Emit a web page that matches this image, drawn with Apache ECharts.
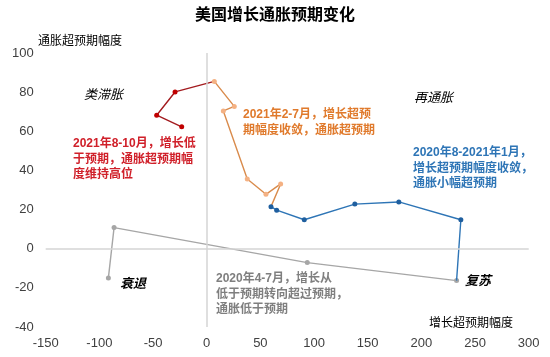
<!DOCTYPE html>
<html><head><meta charset="utf-8">
<script src="https://cdn.jsdelivr.net/npm/echarts@6/dist/echarts.min.js"></script>
<style>html,body{margin:0;padding:0;background:#fff}#c{width:550px;height:357px}</style>
</head><body><div id="c"></div>
<script>
// 2020年4-7月
const growthGray = [-91.6, -86.3, 93.7, 232.8];
const inflGray = [-14.9, 10.8, -7.1, -16.3];
// 2020年8月-2021年1月
const growthBlue = [236.8, 179, 138, 90.9, 65.2, 59.9];
const inflBlue = [14.8, 23.9, 22.8, 14.8, 19.7, 21.5];
// 2021年2-7月
const growthOrange = [68.9, 55.2, 37.8, 15.5, 25.7, 7.1];
const inflOrange = [33.1, 27.8, 35.6, 70.4, 72.7, 85.5];
// 2021年8-10月
const growthRed = [-29.5, -46.6, -23.3];
const inflRed = [80.1, 68.2, 62.3];

const xTicks = [-150, -100, -50, 0, 50, 100, 150, 200, 250, 300];
const yTicks = [-40, -20, 0, 20, 40, 60, 80, 100];

function pts(xs, ys, prevX, prevY) {
  const d = [];
  if (prevX !== undefined) d.push({value: [prevX, prevY], symbol: 'none'});
  xs.forEach((x, i) => d.push([x, ys[i]]));
  return d;
}
const lastG = growthGray.length - 1, lastB = growthBlue.length - 1, lastO = growthOrange.length - 1;

const CJK = '"Liberation Sans","Noto Sans CJK SC",sans-serif';
const chart = echarts.init(document.getElementById('c'));
function lineSeries(data, lineColor, markColor, extra) {
  return Object.assign({
    type: 'line', data: data, symbol: 'circle', symbolSize: 5,
    lineStyle: {color: lineColor, width: 1.4},
    itemStyle: {color: markColor},
    z: 3, animation: false
  }, extra || {});
}
function txt(left, top, lines, color, opts) {
  return Object.assign({
    type: 'text', left: left, top: top,
    style: Object.assign({text: lines, fill: color, font: 'bold 12px ' + CJK, lineHeight: 15.5}, (opts || {}))
  });
}
chart.setOption({
  animation: false,
  grid: {left: 45.7, right: 21.3, top: 53, bottom: 30},
  xAxis: {
    type: 'value', min: xTicks[0], max: xTicks[xTicks.length - 1], interval: 50,
    axisLine: {show: false}, axisTick: {show: false}, splitLine: {show: false},
    axisLabel: {color: '#404040', fontSize: 13, fontFamily: CJK, margin: 10}
  },
  yAxis: {
    type: 'value', min: yTicks[0], max: yTicks[yTicks.length - 1], interval: 20,
    axisLine: {show: false}, axisTick: {show: false}, splitLine: {show: false},
    axisLabel: {color: '#404040', fontSize: 13, fontFamily: CJK, margin: 12}
  },
  series: [
    lineSeries(pts(growthGray, inflGray), '#a6a6a6', '#a6a6a6', {
      markLine: {
        silent: true, symbol: 'none', label: {show: false},
        lineStyle: {color: '#d4d4d4', width: 1.5, type: 'solid'},
        data: [{xAxis: 0}, {yAxis: 0}]
      }, z: 2
    }),
    lineSeries(pts(growthBlue, inflBlue, growthGray[lastG], inflGray[lastG]), '#2e75b6', '#1f5f9f'),
    lineSeries(pts(growthOrange, inflOrange, growthBlue[lastB], inflBlue[lastB]), '#d98b4c', '#f4b183'),
    lineSeries(pts(growthRed, inflRed, growthOrange[lastO], inflOrange[lastO]), '#a31b1f', '#c00000')
  ],
  graphic: [
    {type: 'text', left: 'center', top: 8, style: {text: '美国增长通胀预期变化', fill: '#000', font: 'bold 16px ' + CJK}},
    {type: 'text', left: 38, top: 36, style: {text: '通胀超预期幅度', fill: '#000', font: '12px ' + CJK}},
    {type: 'text', left: 429, top: 318, style: {text: '增长超预期幅度', fill: '#000', font: '12px ' + CJK}},
    {type: 'text', left: 84, top: 89, style: {text: '类滞胀', fill: '#000', font: 'italic 13px ' + CJK}},
    {type: 'text', left: 414, top: 92, style: {text: '再通胀', fill: '#000', font: 'italic 13px ' + CJK}},
    {type: 'text', left: 120, top: 278, style: {text: '衰退', fill: '#000', font: 'italic bold 13px ' + CJK}},
    {type: 'text', left: 465, top: 275, style: {text: '复苏', fill: '#000', font: 'italic bold 13px ' + CJK}},
    txt(73, 136, '2021年8-10月，增长低\n于预期，通胀超预期幅\n度维持高位', '#d0202a'),
    txt(243, 107, '2021年2-7月，增长超预\n期幅度收敛，通胀超预期', '#e07a2c'),
    txt(413, 145, '2020年8-2021年1月，\n增长超预期幅度收敛，\n通胀小幅超预期', '#2e75b6'),
    txt(216, 271, '2020年4-7月，增长从\n低于预期转向超过预期，\n通胀低于预期', '#7f7f7f')
  ]
});
</script></body></html>
